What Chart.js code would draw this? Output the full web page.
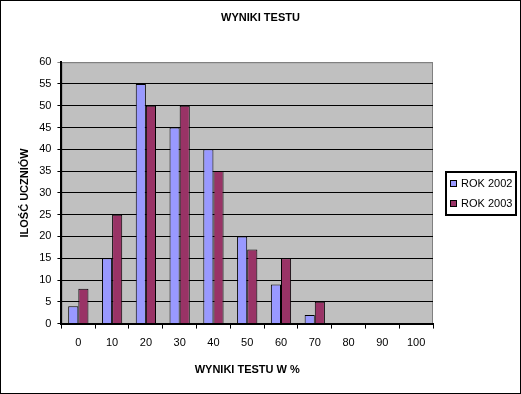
<!DOCTYPE html>
<html>
<head>
<meta charset="utf-8">
<script src="https://cdn.jsdelivr.net/npm/chart.js@4.4.0/dist/chart.umd.min.js"></script>
<style>
  html, body { margin: 0; padding: 0; background: #fff; }
  #wrap { width: 521px; height: 394px; }
</style>
</head>
<body>
<div id="wrap"><canvas id="myChart" width="521" height="394"></canvas></div>
<script>
// data
var categories = ["0", "10", "20", "30", "40", "50", "60", "70", "80", "90", "100"];
var rok2002 = [4, 15, 55, 45, 40, 20, 9, 2, 0, 0, 0];
var rok2003 = [8, 25, 50, 50, 35, 17, 15, 5, 0, 0, 0];
var seriesNames = ["ROK 2002", "ROK 2003"];
var yTicks = [0, 5, 10, 15, 20, 25, 30, 35, 40, 45, 50, 55, 60];

var FONT = "'Liberation Sans', Arial, sans-serif";
Chart.defaults.font.family = FONT;
Chart.defaults.color = "#000";

// grey plot area + outer frame + boxed legend
var frame = {
  id: "frame",
  beforeDraw: function(chart) {
    var c = chart.ctx, a = chart.chartArea;
    c.save();
    c.fillStyle = "#fff";
    c.fillRect(0, 0, chart.width, chart.height);
    c.fillStyle = "#C0C0C0";
    c.fillRect(a.left, a.top, a.right - a.left, a.bottom - a.top);
    c.strokeStyle = "#808080";
    c.lineWidth = 1;
    c.strokeRect(a.left + 0.5, a.top + 0.5, a.right - a.left - 1, a.bottom - a.top);
    c.restore();
  },
  afterDraw: function(chart) {
    var c = chart.ctx;
    c.save();
    c.strokeStyle = "#000";
    c.lineWidth = 1;
    c.strokeRect(0.5, 0.5, chart.width - 1, chart.height - 1);
    // legend
    var lx = 446, ly = 172, lw = 70, lh = 43;
    c.lineWidth = 2;
    c.strokeRect(lx, ly, lw, lh);
    c.font = "11px " + FONT;
    c.textBaseline = "middle";
    chart.data.datasets.forEach(function(ds, i) {
      var y = ly + 11 + i * 20;
      c.fillStyle = ds.backgroundColor;
      c.fillRect(lx + 4, y - 3, 7, 7);
      c.lineWidth = 1;
      c.strokeStyle = "#000";
      c.strokeRect(lx + 4.5, y - 2.5, 6, 6);
      c.fillStyle = "#000";
      c.fillText(ds.label, lx + 15, y + 1);
    });
    c.restore();
  }
};

var chartdata = {
  labels: categories,
  datasets: [
    {
      label: seriesNames[0],
      data: rok2002,
      backgroundColor: "#9999FF",
      borderColor: "#000",
      borderWidth: 1
    },
    {
      label: seriesNames[1],
      data: rok2003,
      backgroundColor: "#993366",
      borderColor: "#000",
      borderWidth: 1
    }
  ]
};

var options = {
  responsive: false,
  animation: false,
  layout: { padding: { left: 0, right: 0, top: 0, bottom: 13 } },
  datasets: { bar: { categoryPercentage: 0.6, barPercentage: 1.0 } },
  plugins: {
    legend: { display: false },
    tooltip: { enabled: false },
    title: {
      display: true,
      text: "WYNIKI TESTU",
      font: { size: 11, weight: "bold" },
      color: "#000",
      padding: { top: 11, bottom: 38 }
    }
  },
  scales: {
    x: {
      grid: { drawOnChartArea: false, drawTicks: true, tickLength: 5, color: "#000", offset: true },
      border: { color: "#000", width: 2 },
      ticks: { font: { size: 11 }, padding: 8, maxRotation: 0 },
      title: {
        display: true,
        text: "WYNIKI TESTU W %",
        font: { size: 11, weight: "bold" },
        padding: { top: 6 }
      }
    },
    y: {
      min: 0,
      max: 60,
      afterBuildTicks: function(axis) {
        axis.ticks = yTicks.map(function(v) { return { value: v }; });
      },
      grid: {
        color: function(ctx) { return ctx.tick && ctx.tick.value === 60 ? "#808080" : "#000"; },
        lineWidth: 1,
        tickLength: 4
      },
      border: { color: "#000", width: 2 },
      ticks: { font: { size: 11 }, padding: 6 },
      title: {
        display: true,
        text: "ILOŚĆ UCZNIÓW",
        font: { size: 11, weight: "bold" },
        padding: { top: 18, bottom: 2 }
      }
    },
    // empty right-hand axis that only reserves room for the legend
    yRight: {
      position: "right",
      display: true,
      grid: { display: false },
      border: { display: false },
      ticks: { display: false },
      afterFit: function(axis) { axis.width = 88; }
    }
  }
};

var ctx = document.getElementById("myChart");
var chart = new Chart(ctx, { type: "bar", data: chartdata, options: options, plugins: [frame] });
</script>
</body>
</html>
